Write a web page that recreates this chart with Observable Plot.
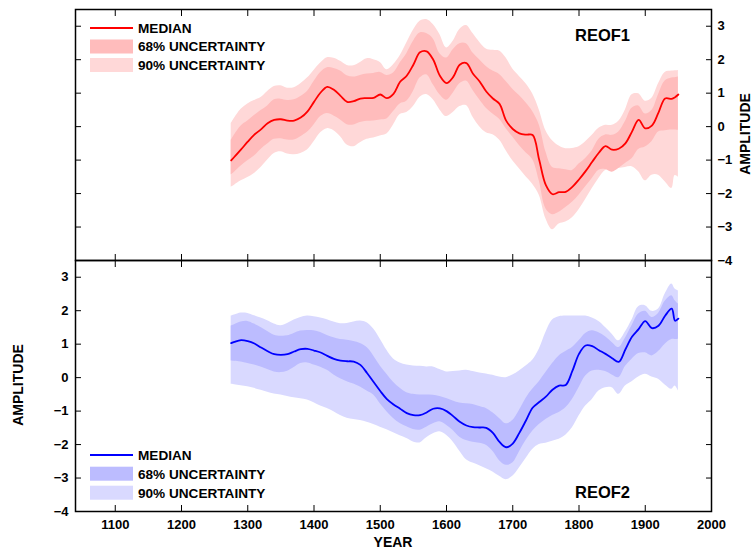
<!DOCTYPE html>
<html><head><meta charset="utf-8">
<script src="https://cdn.jsdelivr.net/npm/d3@7"></script>
<script src="https://cdn.jsdelivr.net/npm/@observablehq/plot@0.6"></script>
<style>
html,body{margin:0;padding:0;background:#fff;}
#chart{position:relative;width:755px;height:554px;}
#chart svg{overflow:visible;display:block;}
</style></head><body><div id="chart"></div>
<script>
// ---- data ----
const years = [1275, 1280, 1290, 1300, 1310, 1320, 1330, 1340, 1350, 1360, 1370, 1380, 1390,
  1400, 1410, 1420, 1430, 1440, 1450, 1460, 1470, 1480, 1490,
  1500, 1510, 1520, 1530, 1540, 1550, 1560, 1570, 1580, 1590,
  1600, 1610, 1620, 1630, 1640, 1650, 1660, 1670, 1680, 1690,
  1700, 1710, 1720, 1730, 1740, 1750, 1760, 1770, 1780, 1790,
  1800, 1810, 1820, 1830, 1840, 1850, 1860, 1870, 1880, 1890,
  1900, 1910, 1920, 1930, 1940, 1945, 1950];

// REOF1 (top panel)
const reof1Median = [-1.01, -0.90, -0.68, -0.45, -0.24, -0.08, 0.10, 0.20, 0.22, 0.18, 0.18, 0.27, 0.45,
  0.74, 1.02, 1.19, 1.10, 0.92, 0.74, 0.76, 0.84, 0.85, 0.86,
  0.96, 0.85, 0.98, 1.34, 1.52, 1.85, 2.22, 2.25, 2.00, 1.52,
  1.30, 1.48, 1.85, 1.90, 1.58, 1.35, 1.05, 0.84, 0.68, 0.18,
  -0.07, -0.20, -0.24, -0.25, -1.00, -1.75, -2.02, -1.96, -1.95, -1.80,
  -1.58, -1.33, -1.05, -0.78, -0.58, -0.69, -0.66, -0.50, -0.15, 0.20,
  -0.05, 0.03, 0.42, 0.84, 0.83, 0.88, 0.96];
const reof1Hi68 = [-0.41, -0.25, 0.02, 0.17, 0.33, 0.48, 0.62, 0.80, 0.82, 0.78, 0.80, 0.90, 1.05,
  1.35, 1.62, 1.76, 1.74, 1.66, 1.52, 1.48, 1.53, 1.57, 1.59,
  1.62, 1.53, 1.60, 1.90, 2.18, 2.55, 2.80, 2.78, 2.62, 2.18,
  2.05, 2.30, 2.48, 2.48, 2.20, 2.00, 1.80, 1.66, 1.56, 1.35,
  1.12, 0.93, 0.71, 0.45, 0.05, -0.75, -1.22, -1.26, -1.29, -1.31,
  -1.12, -0.95, -0.72, -0.38, -0.25, -0.26, -0.16, 0.15, 0.55, 0.62,
  0.38, 0.48, 0.95, 1.36, 1.45, 1.46, 1.48];
const reof1Lo68 = [-1.44, -1.36, -1.18, -1.02, -0.88, -0.68, -0.52, -0.38, -0.36, -0.40, -0.40, -0.30, -0.17,
  0.05, 0.30, 0.39, 0.32, 0.20, 0.06, 0.05, 0.12, 0.16, 0.17,
  0.20, 0.23, 0.45, 0.68, 0.76, 1.05, 1.45, 1.55, 1.25, 0.95,
  0.79, 1.00, 1.28, 1.36, 1.08, 0.80, 0.55, 0.38, 0.22, -0.06,
  -0.31, -0.56, -0.78, -0.98, -1.62, -2.45, -2.63, -2.56, -2.42, -2.26,
  -2.05, -1.80, -1.55, -1.30, -1.28, -1.36, -1.25, -1.10, -0.96, -0.68,
  -0.61, -0.45, -0.16, -0.12, -0.10, -0.10, -0.11];
const reof1Hi90 = [0.09, 0.25, 0.52, 0.68, 0.78, 0.87, 1.05, 1.20, 1.22, 1.15, 1.16, 1.28, 1.45,
  1.68, 1.90, 2.06, 2.04, 1.95, 1.83, 1.82, 1.92, 2.03, 2.00,
  1.92, 1.70, 1.85, 2.12, 2.50, 2.88, 3.15, 3.20, 3.05, 2.75,
  2.35, 2.55, 2.90, 3.02, 2.78, 2.52, 2.32, 2.28, 2.26, 2.05,
  1.72, 1.50, 1.28, 0.98, 0.50, -0.12, -0.42, -0.58, -0.66, -0.65,
  -0.60, -0.45, -0.26, -0.05, 0.04, 0.04, 0.16, 0.50, 0.95, 0.98,
  0.76, 0.85, 1.28, 1.62, 1.66, 1.67, 1.68];
const reof1Lo90 = [-1.81, -1.75, -1.62, -1.52, -1.40, -1.22, -1.00, -0.80, -0.75, -0.82, -0.84, -0.80, -0.70,
  -0.45, -0.18, -0.06, -0.12, -0.30, -0.55, -0.60, -0.48, -0.38, -0.34,
  -0.28, -0.22, 0.05, 0.36, 0.42, 0.60, 0.88, 0.96, 0.80, 0.50,
  0.30, 0.42, 0.60, 0.63, 0.28, 0.00, -0.18, -0.24, -0.40, -0.72,
  -1.02, -1.26, -1.50, -1.72, -2.05, -2.75, -3.08, -2.91, -2.85, -2.72,
  -2.48, -2.18, -1.85, -1.55, -1.31, -1.26, -1.25, -1.22, -1.20, -1.35,
  -1.62, -1.45, -1.45, -1.65, -1.85, -1.46, -1.51];

// REOF2 (bottom panel)
const reof2Median = [1.03, 1.07, 1.12, 1.09, 1.02, 0.90, 0.79, 0.70, 0.68, 0.70, 0.78, 0.85, 0.86,
  0.81, 0.75, 0.65, 0.56, 0.51, 0.49, 0.48, 0.38, 0.14, -0.13,
  -0.40, -0.64, -0.80, -0.93, -1.06, -1.12, -1.12, -1.04, -0.93, -0.92,
  -1.00, -1.15, -1.32, -1.43, -1.48, -1.49, -1.50, -1.65, -1.92, -2.08,
  -1.97, -1.65, -1.28, -0.90, -0.73, -0.57, -0.36, -0.24, -0.22, 0.20,
  0.71, 0.96, 0.94, 0.82, 0.71, 0.58, 0.47, 0.84, 1.22, 1.45,
  1.69, 1.48, 1.55, 1.85, 2.06, 1.70, 1.76];
const reof2Hi68 = [1.54, 1.58, 1.66, 1.68, 1.60, 1.50, 1.38, 1.27, 1.24, 1.25, 1.32, 1.39, 1.41,
  1.40, 1.35, 1.26, 1.19, 1.14, 1.12, 1.08, 1.02, 0.90, 0.65,
  0.35, 0.10, -0.14, -0.32, -0.45, -0.50, -0.52, -0.52, -0.53, -0.56,
  -0.62, -0.70, -0.76, -0.78, -0.80, -0.86, -0.92, -1.05, -1.22, -1.38,
  -1.28, -0.98, -0.62, -0.35, -0.12, 0.15, 0.42, 0.65, 0.78, 0.90,
  1.10, 1.32, 1.40, 1.34, 1.22, 1.05, 0.90, 1.18, 1.55, 1.90,
  1.98, 1.80, 1.92, 2.28, 2.45, 2.30, 2.20];
const reof2Lo68 = [0.50, 0.49, 0.47, 0.42, 0.38, 0.32, 0.24, 0.17, 0.15, 0.19, 0.30, 0.42, 0.44,
  0.38, 0.31, 0.22, 0.08, -0.03, -0.12, -0.19, -0.28, -0.40, -0.52,
  -0.78, -1.02, -1.22, -1.37, -1.47, -1.55, -1.57, -1.48, -1.38, -1.32,
  -1.42, -1.58, -1.78, -1.88, -1.93, -1.96, -2.02, -2.20, -2.48, -2.62,
  -2.55, -2.22, -1.88, -1.60, -1.40, -1.25, -1.13, -1.04, -0.90, -0.65,
  -0.30, 0.05, 0.20, 0.22, 0.18, 0.08, 0.00, 0.33, 0.55, 0.72,
  0.74, 0.65, 0.78, 1.00, 1.14, 1.14, 1.15];
const reof2Hi90 = [1.84, 1.87, 1.93, 1.92, 1.85, 1.78, 1.70, 1.60, 1.55, 1.62, 1.72, 1.80, 1.84,
  1.82, 1.78, 1.73, 1.66, 1.61, 1.62, 1.66, 1.69, 1.64, 1.45,
  1.15, 0.82, 0.56, 0.44, 0.38, 0.35, 0.34, 0.32, 0.32, 0.24,
  0.17, 0.18, 0.20, 0.22, 0.18, 0.14, 0.11, 0.07, 0.02, 0.00,
  0.08, 0.20, 0.35, 0.52, 0.85, 1.35, 1.72, 1.82, 1.84, 1.84,
  1.84, 1.84, 1.78, 1.68, 1.50, 1.30, 1.10, 1.36, 1.72, 2.12,
  2.15, 1.98, 2.05, 2.50, 2.80, 2.65, 2.59];
const reof2Lo90 = [-0.20, -0.21, -0.24, -0.27, -0.32, -0.38, -0.44, -0.49, -0.52, -0.56, -0.60, -0.63, -0.67,
  -0.75, -0.85, -0.92, -1.02, -1.13, -1.21, -1.25, -1.28, -1.33, -1.40,
  -1.48, -1.56, -1.65, -1.74, -1.82, -1.92, -1.95, -1.80, -1.68, -1.62,
  -1.72, -1.92, -2.20, -2.45, -2.55, -2.63, -2.72, -2.82, -2.95, -3.05,
  -2.95, -2.70, -2.42, -2.15, -2.00, -1.96, -1.90, -1.84, -1.72, -1.50,
  -1.15, -0.85, -0.65, -0.40, -0.30, -0.30, -0.50, -0.25, -0.12, 0.02,
  0.10, 0.02, -0.05, -0.22, -0.35, -0.25, -0.40];

const xTicks = [1100, 1200, 1300, 1400, 1500, 1600, 1700, 1800, 1900, 2000];
const yTicks = [-4, -3, -2, -1, 0, 1, 2, 3];
const legendLabels = ["MEDIAN", "68% UNCERTAINTY", "90% UNCERTAINTY"];
const panelNames = ["REOF1", "REOF2"];
const xTitle = "YEAR";
const yTitle = "AMPLITUDE";

// ---- styles ----
const FONT = "'Liberation Sans', Arial, Helvetica, sans-serif";
const RED = "#ff0000", RED68 = "#ffbcbc", RED90 = "#ffd8d8";
const BLUE = "#0000ff", BLUE68 = "#bcbcff", BLUE90 = "#d9d9ff";
const XDOM = [1040, 2000], YDOM = [-4, 3.5];
const W = 755, ML = 75, MR = 44, TK = 6;

const rows = (med, lo68, hi68, lo90, hi90) =>
  years.map((year, i) => ({year, med: med[i], lo68: lo68[i], hi68: hi68[i], lo90: lo90[i], hi90: hi90[i]}));
const rows1 = rows(reof1Median, reof1Lo68, reof1Hi68, reof1Lo90, reof1Hi90);
const rows2 = rows(reof2Median, reof2Lo68, reof2Hi68, reof2Lo90, reof2Hi90);

const curve = "catmull-rom";
function seriesMarks(data, c, c68, c90) {
  return [
    Plot.areaY(data, {x: "year", y1: "lo90", y2: "hi90", fill: c90, curve}),
    Plot.areaY(data, {x: "year", y1: "lo68", y2: "hi68", fill: c68, curve}),
    Plot.lineY(data, {x: "year", y: "med", stroke: c, strokeWidth: 1.8, curve})
  ];
}
// inward-pointing tick marks on all four sides (MATLAB style)
function inwardTicks() {
  return [
    Plot.axisX(xTicks, {anchor: "top", tickSize: TK, dy: TK, fill: "none", label: null}),
    Plot.axisX(xTicks, {anchor: "bottom", tickSize: TK, dy: -TK, fill: "none", label: null}),
    Plot.axisY(yTicks, {anchor: "left", tickSize: TK, dx: TK, fill: "none", label: null}),
    Plot.axisY(yTicks, {anchor: "right", tickSize: TK, dx: -TK, fill: "none", label: null})
  ];
}
const baseStyle = {fontFamily: FONT, fontSize: "13px", fontWeight: "bold", color: "#000", background: "none", overflow: "visible"};

const topPlot = Plot.plot({
  width: W, height: 260, marginLeft: ML, marginRight: MR, marginTop: 9, marginBottom: 0,
  style: baseStyle,
  x: {domain: XDOM}, y: {domain: YDOM},
  marks: [
    ...seriesMarks(rows1, RED, RED68, RED90),
    ...inwardTicks(),
    Plot.axisY(yTicks, {anchor: "right", tickSize: 0, tickPadding: 6, label: null}),
    Plot.frame({stroke: "#000", strokeWidth: 1.5})
  ]
});

const botPlot = Plot.plot({
  width: W, height: 294, marginLeft: ML, marginRight: MR, marginTop: 0, marginBottom: 43,
  style: baseStyle,
  x: {domain: XDOM}, y: {domain: YDOM},
  marks: [
    ...seriesMarks(rows2, BLUE, BLUE68, BLUE90),
    ...inwardTicks(),
    Plot.axisX(xTicks, {anchor: "bottom", tickSize: 0, tickPadding: 8, label: null, tickFormat: d => String(d)}),
    Plot.axisY(yTicks, {anchor: "left", tickSize: 0, tickPadding: 7, label: null}),
    Plot.frame({stroke: "#000", strokeWidth: 1.5})
  ]
});

const chart = document.getElementById("chart");
topPlot.style.position = "relative";
topPlot.style.zIndex = "2";
chart.appendChild(topPlot);
chart.appendChild(botPlot);

function legend(svg, x0, yLine, yR1, yR2, c, c68, c90) {
  const g = d3.select(svg).append("g")
    .attr("font-family", FONT).attr("font-size", 13.6).attr("font-weight", "bold")
    .attr("fill", "#000").attr("text-anchor", "start");
  g.append("line").attr("x1", x0).attr("x2", x0 + 43).attr("y1", yLine).attr("y2", yLine)
    .attr("stroke", c).attr("stroke-width", 1.8);
  g.append("rect").attr("x", x0).attr("y", yR1).attr("width", 43).attr("height", 14).attr("fill", c68);
  g.append("rect").attr("x", x0).attr("y", yR2).attr("width", 43).attr("height", 14).attr("fill", c90);
  const ys = [yLine, yR1 + 7, yR2 + 7];
  legendLabels.forEach((t, i) => g.append("text").attr("x", x0 + 48).attr("y", ys[i]).attr("dy", "0.36em").text(t));
}
legend(topPlot, 90, 28, 39.5, 58, RED, RED68, RED90);
legend(botPlot, 90, 195, 206.7, 225.7, BLUE, BLUE68, BLUE90);

function tag(svg, text, y) {
  d3.select(svg).append("text").attr("x", 630).attr("y", y).attr("text-anchor", "end")
    .attr("font-family", FONT).attr("font-size", 16.5).attr("font-weight", "bold").attr("fill", "#000").text(text);
}
tag(topPlot, panelNames[0], 40.5);
tag(botPlot, panelNames[1], 238);

// axis titles
function title(svg, text, transform) {
  d3.select(svg).append("text").attr("transform", transform)
    .attr("text-anchor", "middle").attr("font-family", FONT).attr("font-size", 14).attr("font-weight", "bold")
    .attr("fill", "#000").text(text);
}
title(topPlot, yTitle, "translate(750,134) rotate(-90)");
title(botPlot, yTitle, "translate(23,125) rotate(-90)");
title(botPlot, xTitle, "translate(393,287)");
</script></body></html>
